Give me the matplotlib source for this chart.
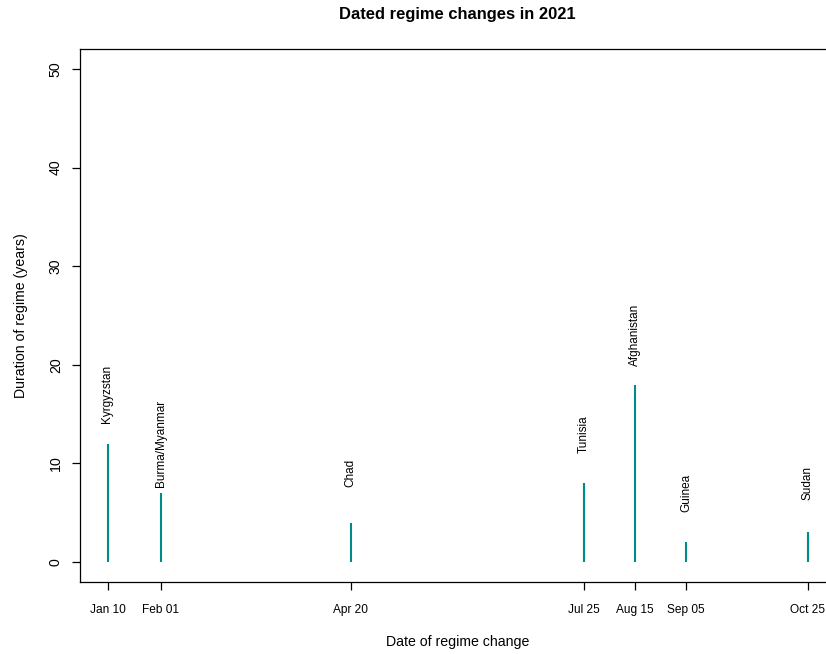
import matplotlib
matplotlib.use('Agg')
import matplotlib.pyplot as plt
import matplotlib.dates as mdates
import pandas as pd

# data
countries = ['Kyrgyzstan', 'Burma/Myanmar', 'Chad', 'Tunisia', 'Afghanistan', 'Guinea', 'Sudan']
change_dates = ['2021-01-10', '2021-02-01', '2021-04-20', '2021-07-25', '2021-08-15', '2021-09-05', '2021-10-25']
durations = [12, 7, 4, 8, 18, 2, 3]
y_ticks = [0, 10, 20, 30, 40, 50]

plt.rcParams['font.family'] = ['Liberation Sans', 'DejaVu Sans']

dates = pd.to_datetime(change_dates)

fig = plt.figure(figsize=(8.26, 6.54), dpi=100)
# plot region runs a little past the right edge, like the original
ax = fig.add_axes([79.5 / 826, 72.3 / 654, 756 / 826, 532.4 / 654])

ax.vlines(dates, 0, durations, color='#008B8B', lw=1.5)
for d, h, name in zip(dates, durations, countries):
    ax.text(d, h + 5, name, rotation=90, ha='center', va='center', fontsize=8.5)

# R-style 4% padding on the axes
pad = (dates.max() - dates.min()) * 0.04
ax.set_xlim(dates.min() - pad, dates.max() + pad)
ax.set_ylim(-2, 52)

ax.set_xticks(dates)
ax.xaxis.set_major_formatter(mdates.DateFormatter('%b %d'))
ax.set_yticks(y_ticks)
ax.set_yticklabels([str(v) for v in y_ticks], rotation=90, va='center', ha='center')

ax.tick_params(axis='x', length=6, width=0.9, pad=10, labelsize=8.6)
ax.tick_params(axis='y', length=6, width=0.9, pad=11, labelsize=10.2)
for s in ax.spines.values():
    s.set_linewidth(0.9)

cx = 457.5 / 826
fig.text(cx, 1 - 15 / 654, 'Dated regime changes in 2021', ha='center', va='center',
         fontsize=11.9, fontweight='bold')
fig.text(cx, 1 - 642 / 654, 'Date of regime change', ha='center', va='center', fontsize=10.2)
fig.text(20.7 / 826, 1 - 315.5 / 654, 'Duration of regime (years)', rotation=90,
         ha='center', va='center', fontsize=10.2)

fig.savefig('out.png', dpi=100)
